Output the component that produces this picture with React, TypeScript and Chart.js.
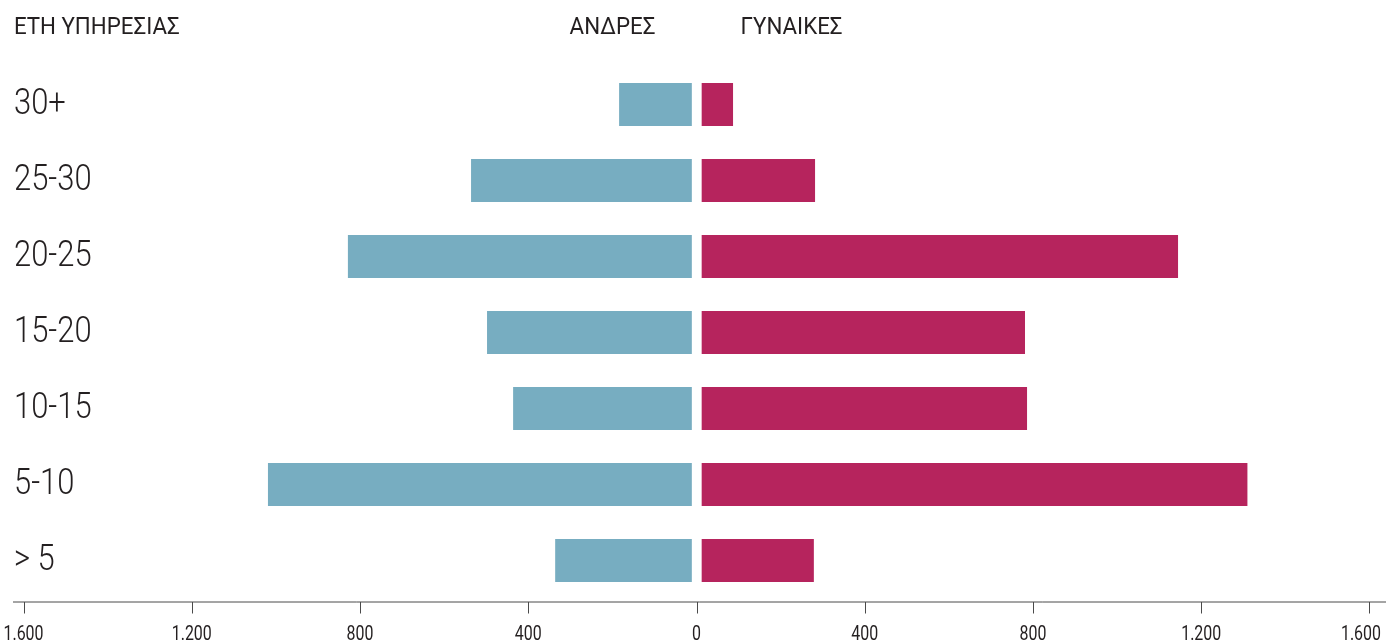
import React, { useEffect, useRef } from "react";
import { Chart, registerables } from "chart.js";

Chart.register(...registerables);

const CATEGORIES = ["30+", "25-30", "20-25", "15-20", "10-15", "5-10", "> 5"];
const MEN = [184, 536, 829, 498, 436, 1019, 336];
const WOMEN = [87, 282, 1145, 781, 786, 1310, 279];
const TICK_VALUES = [-1600, -1200, -800, -400, 0, 400, 800, 1200, 1600];
const AXIS_TITLE = "ΕΤΗ ΥΠΗΡΕΣΙΑΣ";
const SERIES_NAMES = ["ΑΝΔΡΕΣ", "ΓΥΝΑΙΚΕΣ"];
const X_MIN = -1625;
const X_MAX = 1625;

const MEN_COLOR = "#77adc1";
const WOMEN_COLOR = "#b6245d";
const TEXT_COLOR = "#231f20";
const W = 1386;
const H = 641;

function fmt(v: number): string {
  const a = Math.abs(v).toString();
  return a.replace(/\B(?=(\d{3})+(?!\d))/g, ".");
}

function drawText(
  ctx: CanvasRenderingContext2D,
  text: string,
  x: number,
  y: number,
  font: string,
  sx: number,
  align: "left" | "right" | "center"
) {
  ctx.save();
  ctx.font = font;
  const w = ctx.measureText(text).width * sx;
  let left = align === "left" ? x : align === "right" ? x - w : x - w / 2;
  if (left + w > W - 5) left = W - 5 - w;
  ctx.translate(left, y);
  ctx.scale(sx, 1);
  ctx.textAlign = "left";
  ctx.textBaseline = "alphabetic";
  ctx.fillStyle = TEXT_COLOR;
  ctx.fillText(text, 0, 0);
  ctx.restore();
}

const decorPlugin = {
  id: "decor",
  afterDraw(chart: any) {
    const ctx: CanvasRenderingContext2D = chart.ctx;
    const xs = chart.scales.x;
    const ys = chart.scales.y;
    const area = chart.chartArea;
    const zero = xs.getPixelForValue(0);

    // headers
    drawText(ctx, AXIS_TITLE, 14, 33.5, "400 24px Roboto", 0.93, "left");
    drawText(ctx, SERIES_NAMES[0], zero - 41, 33.5, "400 24px Roboto", 0.93, "right");
    drawText(ctx, SERIES_NAMES[1], zero + 44, 33.5, "400 24px Roboto", 0.93, "left");

    // category labels
    CATEGORIES.forEach((c, i) => {
      const y = ys.getPixelForValue(i);
      drawText(ctx, c, 14, y + 9.5, "300 36px Roboto", 0.86, "left");
    });

    // axis line + ticks
    const axisY = area.bottom + 3.5;
    ctx.save();
    ctx.strokeStyle = "#4a4a4a";
    ctx.lineWidth = 1;
    ctx.beginPath();
    ctx.moveTo(area.left, axisY);
    ctx.lineTo(W, axisY);
    ctx.stroke();
    TICK_VALUES.forEach((v) => {
      const x = Math.round(xs.getPixelForValue(v)) + 0.5;
      ctx.beginPath();
      ctx.moveTo(x, axisY);
      ctx.lineTo(x, axisY + 11.5);
      ctx.stroke();
    });
    ctx.restore();

    TICK_VALUES.forEach((v) => {
      const x = xs.getPixelForValue(v);
      drawText(ctx, fmt(v), x, 640, "400 21px Roboto", 0.76, "center");
    });
  },
};

export default function App() {
  const ref = useRef<HTMLCanvasElement | null>(null);

  useEffect(() => {
    document.body.style.margin = "0";
    const canvas = ref.current;
    if (!canvas) return;
    const chart = new Chart(canvas, {
      type: "bar",
      data: {
        labels: CATEGORIES,
        datasets: [
          {
            label: SERIES_NAMES[0],
            data: MEN.map((v) => -v),
            backgroundColor: MEN_COLOR,
            borderColor: "#ffffff",
            borderWidth: { left: 0, right: 5, top: 0, bottom: 0 },
            borderSkipped: false,
            barThickness: 43,
          },
          {
            label: SERIES_NAMES[1],
            data: WOMEN,
            backgroundColor: WOMEN_COLOR,
            borderColor: "#ffffff",
            borderWidth: { left: 5.5, right: 0, top: 0, bottom: 0 },
            borderSkipped: false,
            barThickness: 43,
          },
        ],
      },
      options: {
        indexAxis: "y",
        responsive: false,
        animation: false,
        layout: { padding: { left: 13, right: 6, top: 66.5, bottom: 42.5 } },
        plugins: {
          legend: { display: false },
          tooltip: { enabled: false },
        },
        scales: {
          x: { type: "linear", min: X_MIN, max: X_MAX, display: false, stacked: true },
          y: { type: "category", display: false, stacked: true, offset: true },
        },
      } as any,
      plugins: [decorPlugin],
    });
    return () => chart.destroy();
  }, []);

  return (
    <div style={{ width: W, height: H, position: "relative", background: "#fff" }}>
      <canvas ref={ref} width={W} height={H} style={{ display: "block" }} />
    </div>
  );
}
